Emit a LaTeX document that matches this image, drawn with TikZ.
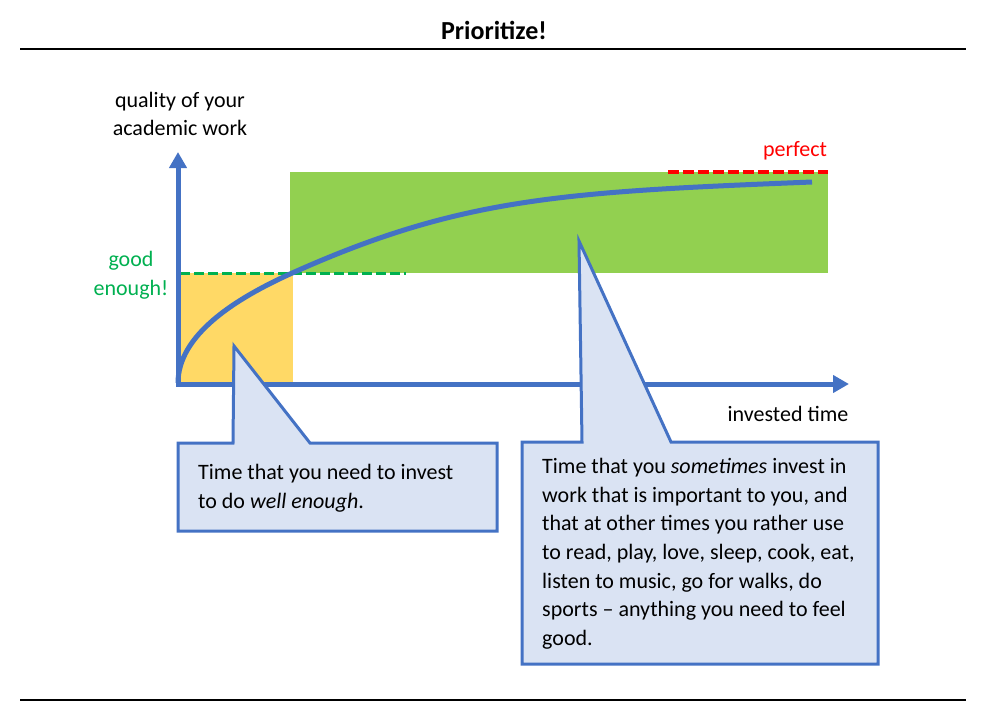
\documentclass[tikz,border=0pt]{standalone}
\usepackage{fontspec}
\setmainfont{Carlito}
\usetikzlibrary{arrows.meta}
\definecolor{axisblue}{HTML}{4472C4}
\definecolor{calloutfill}{HTML}{DAE3F3}
\definecolor{greenbox}{HTML}{92D050}
\definecolor{yellowbox}{HTML}{FFD966}
\definecolor{goodgreen}{HTML}{00B050}
\definecolor{perfectred}{HTML}{FF0000}
\tikzset{
  lbl/.style={font=\fontsize{22}{28.5}\selectfont, inner sep=0pt},
  axisline/.style={draw=axisblue, line width=5pt, -{Triangle[length=16pt,width=17pt]}},
  callout/.style={draw=axisblue, fill=calloutfill, line width=3pt, line join=miter},
  calltext/.style={font=\fontsize{22}{28.7}\selectfont, inner sep=0pt, anchor=north west, align=left},
  rulerline/.style={line width=1.3pt, black},
}
\begin{document}
\begin{tikzpicture}[x=1pt,y=-1pt]
\useasboundingbox (0,0) rectangle (984,718);
% title and rules
\node[font=\bfseries\fontsize{26}{30}\selectfont, inner sep=0pt] (title) at (494,30) {Prioritize!};
\draw[rulerline] (20,49) -- (966,49);
\draw[rulerline] (20,700) -- (966,700);
% regions
\fill[yellowbox] (178,273) rectangle (293,384);
\fill[greenbox] (290,172) rectangle (828,273);
% dashed levels
\coordinate (g1) at (180,273);
\coordinate (g2) at (406,273);
\coordinate (r1) at (668,172);
\coordinate (r2) at (828,172);
\draw[goodgreen, line width=3pt, dash pattern=on 10pt off 4pt] (g1) -- (g2);
\draw[perfectred, line width=4pt, dash pattern=on 11pt off 4pt] (r1) -- (r2);
% curve
\coordinate (c0) at (178,383);
\coordinate (c1) at (290,274);
\coordinate (c2) at (812,182);
\draw[axisblue, line width=5pt] (c0) .. controls (178,335) and (235,299) .. (c1)
  .. controls (460,197.5) and (562,192) .. (c2);
% axes
\coordinate (ytip) at (178,152);
\coordinate (xtip) at (849,384);
\draw[axisline] (178,386.5) -- (ytip);
\draw[axisline] (175.5,384) -- (xtip);
% labels
\node[lbl, align=center] (ylabel) at (180,114) {quality of your\\academic work};
\node[lbl, align=center, text=goodgreen] (good) at (131,275) {good\\enough!};
\node[lbl, text=perfectred] (perfect) at (795,151) {perfect};
\node[lbl] (xlabel) at (788,414) {invested time};
% left callout
\draw[callout] (178,443) -- (233,443) -- (234,346) -- (310,443) -- (497,443) -- (497,531) -- (178,531) -- cycle;
\node[calltext] (lefttext) at (198,464) {Time that you need to invest\\to do \textit{well enough}.};
% right callout
\draw[callout] (522,442) -- (582,442) -- (579,241) -- (671,442) -- (878,442) -- (878,664) -- (522,664) -- cycle;
\node[calltext] (righttext) at (542,458) {Time that you \textit{sometimes} invest in\\work that is important to you, and\\that at other times you rather use\\to read, play, love, sleep, cook, eat,\\listen to music, go for walks, do\\sports -- anything you need to feel\\good.};
\end{tikzpicture}
\end{document}
